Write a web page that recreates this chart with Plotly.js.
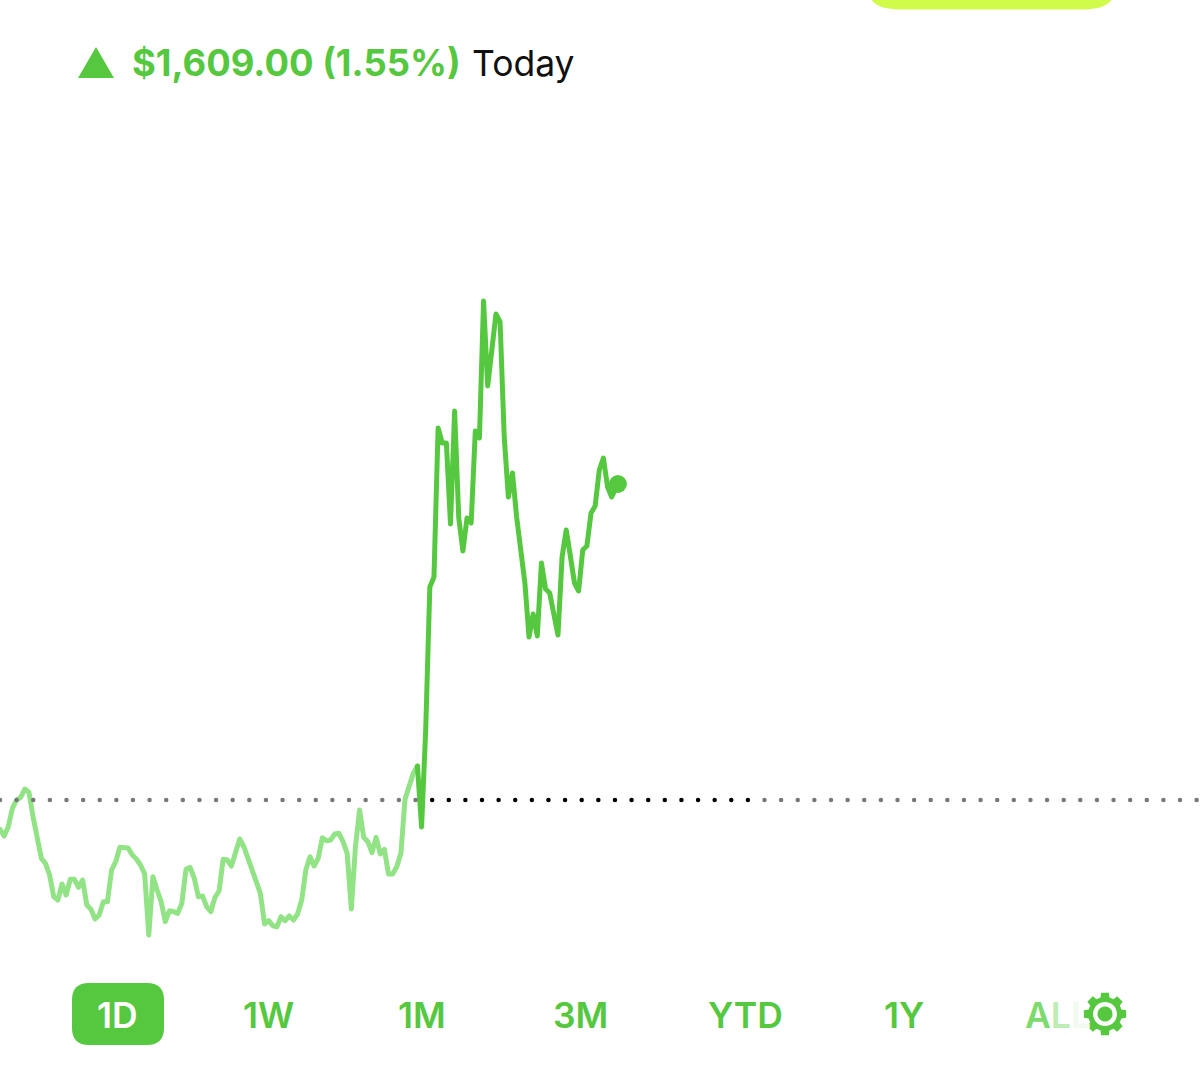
<!DOCTYPE html>
<html>
<head>
<meta charset="utf-8">
<script src="https://cdn.plot.ly/plotly-3.0.1.min.js"></script>
<style>html,body{margin:0;padding:0;background:#fff}#chart{width:1200px;height:1092px}
#chart .scatterlayer path.js-line{stroke-linejoin:round;stroke-linecap:round}</style>
</head>
<body>
<div id="chart"></div>
<script>
// Level above the previous close, one value per time slot.
const earlyLevels = [-29.3,-36,-26.7,-8.3,0,2.7,11,7.7,-16.7,-37.3,-58.3,-63.3,-75,-96.7,-100,-84,-95,-79.3,-79.3,-87.3,
  -80,-105,-109.3,-119,-115,-101.7,-101.7,-70,-61.7,-47.3,-47.3,-48,-55,-59,-65,-74,-135,-76.7,-90,-101.7,
  -121.7,-110.7,-111.7,-113.3,-103.3,-69.3,-67.3,-78.3,-96.7,-96,-106.7,-111.7,-97.5,-91,-59.3,-60,-66,-53.3,-39,-46.7,
  -58.3,-70,-85,-93.3,-124,-120.7,-125.7,-126.7,-116.7,-120.7,-116,-120,-114,-100,-70,-56.7,-66,-58.3,-37.7,-40.7,
  -40,-34,-33.3,-41.7,-53.3,-109,-46.7,-10,-37.3,-41.7,-52.7,-37.3,-54,-49.3,-74,-74,-66.7,-53.3,0.7,13.3,26.7,34];
const sessionLevels = [34,-27,70,213,223,372,357,357,276,389,282,249,282,277,369,362,499,414,450,486,
  478,363,303,327,283,247,217,163,186,164,237,211,207,186,165,243,270,244,217,209,
  250,254,287,294,330,342,313,303];
const lastSlot = 149.5;
const lastLevel = 316;
const rangeLabels = ["1D","1W","1M","3M","YTD","1Y"];
const rangeCentres = [117,268,422,580,745,904];
const changeText = "$1,609.00 (1.55%)";
const periodText = "Today";

const W = 1200, H = 1092;
const DARK = "#55c83f", LIGHT = "#92e386";
const slotsPerPixel = 1 / 4.133;
const fx = px => px / W;
const fy = py => 1 - py / H;
const P = (x, y) => fx(x).toFixed(5) + "," + fy(y).toFixed(5);

const earlySlots = earlyLevels.map((_, i) => i);
const sessionSlots = sessionLevels.map((_, i) => i + earlyLevels.length - 1);

// previous-close reference dots
const dotX = {grey: [], black: []};
for (let px = 0; px <= W; px += 16.62) {
  (px > 425 && px < 755 ? dotX.black : dotX.grey).push(px * slotsPerPixel);
}

function pillBottom(x0, x1, y1, r) {
  return "M" + P(x0, -2) + " C" + P(x0 + 6, y1 * 0.7) + " " + P(x0 + 14, y1) + " " + P(x0 + r, y1) + " L" + P(x1 - r, y1) +
         " C" + P(x1 - 14, y1) + " " + P(x1 - 6, y1 * 0.7) + " " + P(x1, -2) + " Z";
}
function roundRect(x0, y0, x1, y1, r) {
  return "M" + P(x0 + r, y0) + " L" + P(x1 - r, y0) + " Q" + P(x1, y0) + " " + P(x1, y0 + r) +
         " L" + P(x1, y1 - r) + " Q" + P(x1, y1) + " " + P(x1 - r, y1) +
         " L" + P(x0 + r, y1) + " Q" + P(x0, y1) + " " + P(x0, y1 - r) +
         " L" + P(x0, y0 + r) + " Q" + P(x0, y0) + " " + P(x0 + r, y0) + " Z";
}
function circle(cx, cy, r) {
  let d = "";
  for (let i = 0; i < 36; i++) {
    const a = i / 36 * 2 * Math.PI;
    d += (i ? " L" : "M") + P(cx + r * Math.cos(a), cy + r * Math.sin(a));
  }
  return d + " Z";
}
function gear(cx, cy, rOut, rBody, teeth) {
  let d = "";
  const step = 2 * Math.PI / teeth;
  for (let i = 0; i < teeth; i++) {
    const c = i * step - Math.PI / 2;
    const pts = [[rBody, c - step * 0.34], [rOut, c - step * 0.23], [rOut, c + step * 0.23], [rBody, c + step * 0.34]];
    pts.forEach((p, j) => {
      d += ((i || j) ? " L" : "M") + P(cx + p[0] * Math.cos(p[1]), cy + p[0] * Math.sin(p[1]));
    });
  }
  return d + " Z";
}
const solid = (path, color) => ({type: "path", xref: "paper", yref: "paper", path, fillcolor: color, line: {width: 0}, layer: "above"});

const shapes = [
  solid(pillBottom(870, 1113, 9.5, 34), "#d0fb4b"),
  solid("M" + P(96, 47) + " L" + P(114, 78) + " L" + P(78, 78) + " Z", DARK),
  solid(roundRect(72, 983, 164, 1045, 17), DARK),
  solid(gear(1105, 1014, 21.5, 17, 8), DARK),
  solid(circle(1105, 1014, 12), "#ffffff"),
  solid(circle(1105, 1014, 7.5), DARK)
];

const note = (text, px, py, color, size, weight, anchor) => ({
  text, xref: "paper", yref: "paper", x: fx(px), y: fy(py), xanchor: anchor || "center", yanchor: "middle",
  showarrow: false, font: {family: "Inter, 'Open Sans', sans-serif", size, color, weight}
});
const allLabel = '<span style="color:#7ddb6d">A</span><span style="color:#bdecb4">L</span><span style="color:#f0faee">L</span>';
const annotations = [
  note(changeText, 129.5, 63, DARK, 36.4, 700, "left"),
  note(periodText, 470, 63, "#111111", 35.5, 400, "left"),
  ...rangeLabels.map((t, i) => note(t, rangeCentres[i], 1015, i === 0 ? "#ffffff" : DARK, 35.5, 600)),
  note(allLabel, 1058, 1015, "#7ddb6d", 35.5, 600)
];

const traces = [
  {x: earlySlots, y: earlyLevels, mode: "lines", line: {color: LIGHT, width: 5, shape: "linear"}, hoverinfo: "skip"},
  {x: sessionSlots.concat([lastSlot]), y: sessionLevels.concat([lastLevel]), mode: "lines", line: {color: DARK, width: 5, shape: "linear"}, hoverinfo: "skip"},
  {x: dotX.grey, y: dotX.grey.map(() => 0), mode: "markers", marker: {color: "#77777c", size: 4.5}, hoverinfo: "skip"},
  {x: dotX.black, y: dotX.black.map(() => 0), mode: "markers", marker: {color: "#000000", size: 4.5}, hoverinfo: "skip"},
  {x: [lastSlot], y: [lastLevel], mode: "markers", marker: {color: DARK, size: 18}, hoverinfo: "skip"}
];

const layout = {
  width: W, height: H,
  margin: {l: 0, r: 0, t: 0, b: 0},
  paper_bgcolor: "#ffffff", plot_bgcolor: "#ffffff",
  showlegend: false,
  xaxis: {range: [0, W * slotsPerPixel], visible: false, fixedrange: true},
  yaxis: {range: [-292, 800], visible: false, fixedrange: true},
  shapes, annotations
};
Plotly.newPlot("chart", traces, layout, {displayModeBar: false, staticPlot: true});
</script>
</body>
</html>
